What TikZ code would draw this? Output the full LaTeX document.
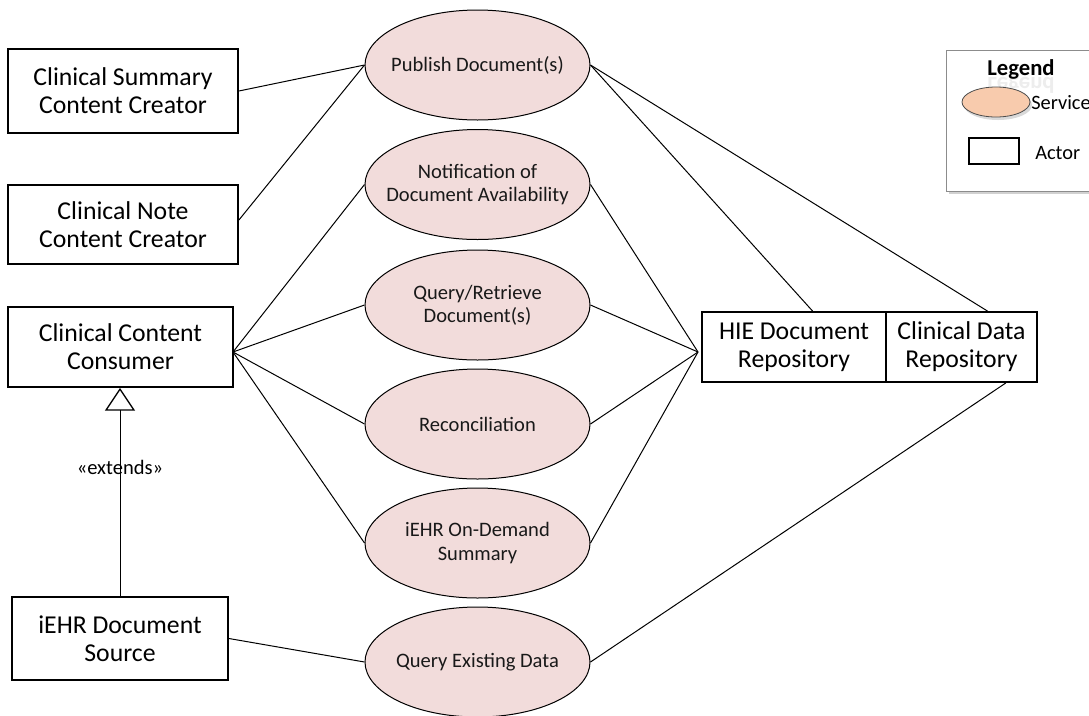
\documentclass[tikz,border=0pt]{standalone}
\usepackage{fontspec}
\setmainfont{Carlito}
\usetikzlibrary{shapes.geometric,arrows.meta,calc}
\definecolor{ucfill}{HTML}{F2DCDB}
\definecolor{peach}{HTML}{F8CBAD}
\definecolor{legline}{HTML}{8C8C8C}
\begin{document}
\begin{tikzpicture}[x=0.75pt,y=-0.75pt,
  actor/.style={draw,line width=1.4pt,align=center,inner sep=0pt,
    font=\fontsize{19.3}{21}\selectfont},
  usecase/.style={ellipse,draw,line width=0.75pt,fill=ucfill,
    minimum width=168.75pt,minimum height=82.5pt,inner sep=0pt},
  uclabel/.style={align=center,inner sep=0pt,text=black!90,
    font=\fontsize{15.4}{17.3}\selectfont},
  link/.style={line width=0.75pt},
  legtext/.style={font=\fontsize{15.3}{17}\selectfont,inner sep=0pt}]
\useasboundingbox (0,0) rectangle (1089,715);

% actors
\node[actor,minimum width=172.5pt,minimum height=63pt] (sumc) at (123,91)
  {Clinical Summary\\Content Creator};
\node[actor,minimum width=172.5pt,minimum height=59.25pt] (note) at (123,224.5)
  {Clinical Note\\Content Creator};
\node[actor,minimum width=168.75pt,minimum height=60pt] (cons) at (120.5,347)
  {Clinical Content\\Consumer};
\node[actor,minimum width=162pt,minimum height=62.25pt] (src) at (120,638.5)
  {iEHR Document\\Source};
\node[actor,minimum width=138pt,minimum height=52.5pt] (hie) at (794,347)
  {HIE Document\\Repository};
\node[actor,minimum width=113.25pt,minimum height=52.5pt] (cdr) at (961.5,347)
  {Clinical Data\\Repository};

% services (fixed-size ellipses, text set as a centred label)
\node[usecase,label={[uclabel]center:{Publish Document(s)}}] (pub) at (477.5,65) {};
\node[usecase,label={[uclabel]center:{Notification of\\Document Availability}}] (notif) at (477.5,184.5) {};
\node[usecase,label={[uclabel]center:{Query/Retrieve\\Document(s)}}] (qr) at (477.5,305) {};
\node[usecase,label={[uclabel]center:{Reconciliation}}] (rec) at (477.5,424) {};
\node[usecase,label={[uclabel]center:{iEHR On-Demand\\Summary}}] (ond) at (477.5,543) {};
\node[usecase,label={[uclabel]center:{Query Existing Data}}] (qed) at (477.5,662) {};

% connection points
\coordinate (consport) at (233,352);
\coordinate (hub) at (698,352);
\coordinate (hietop) at ($(hie.north west)!0.6!(hie.north east)$);
\coordinate (cdrtop) at ($(cdr.north west)!0.67!(cdr.north east)$);
\coordinate (cdrbot) at ($(cdr.south west)!0.79!(cdr.south east)$);

% associations
\draw[link] (sumc.east) -- (pub.west);
\draw[link] ([yshift=3.4pt]note.east) -- (pub.west);
\foreach \u in {notif,qr,rec,ond}
  \draw[link] (consport) -- (\u.west);
\foreach \u in {notif,qr,rec,ond}
  \draw[link] (\u.east) -- (hub);
\draw[link] (pub.east) -- (hietop);
\draw[link] (pub.east) -- (cdrtop);
\draw[link] (src.east) -- (qed.west);
\draw[link] (qed.east) -- (cdrbot);

% generalization
\draw[link,-{Triangle[open,length=17pt,width=22.5pt,line width=1pt]}]
  (src.north) -- (src.north |- cons.south)
  node[pos=0.62,font=\fontsize{15.4}{17}\selectfont,inner sep=0pt] (ext) {«extends»};

% legend
\fill[black!18] (949,53) rectangle (1104,194);
\draw[legline,line width=0.75pt,fill=white] (946,50) rectangle (1101,191);
\node[font=\fontsize{17}{19}\selectfont\bfseries,inner sep=0pt,text=black!7,
  yscale=-1] (legr) at (1021,84) {Legend};
\node[font=\fontsize{17}{19}\selectfont\bfseries,inner sep=0pt] (legt) at (1021,69) {Legend};
\node[ellipse,fill=black!15,minimum width=51pt,minimum height=22.5pt,inner sep=0pt]
  (legshadow) at (998,105) {};
\node[ellipse,draw=black!70,line width=0.6pt,fill=peach,minimum width=51pt,
  minimum height=22.5pt,inner sep=0pt] (legsvc) at (996,102) {};
\node[legtext,anchor=west] (legsvct) at (1031,103) {Service};
\node[draw,line width=1.1pt,minimum width=37.5pt,minimum height=19.5pt,inner sep=0pt]
  (legact) at (994,151) {};
\node[legtext,anchor=west] (legactt) at (1035,153) {Actor};
\end{tikzpicture}
\end{document}
